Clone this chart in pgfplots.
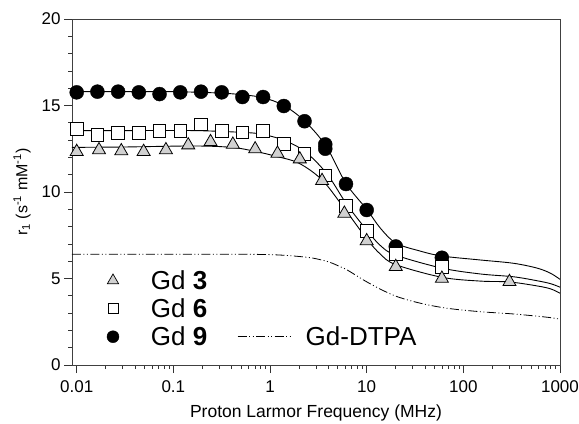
\documentclass[border=0pt]{standalone}
\usepackage{fontspec}
\setmainfont{Liberation Sans}
\usepackage{pgfplots}
\pgfplotsset{compat=1.18}
\tikzset{
  dtpa/.style={black, line width=0.8bp, dash pattern=on 9bp off 2.5bp on 1bp off 2.5bp on 1bp off 2.5bp},
}
\pgfplotsset{
  fitline/.style={black, line width=0.9bp, smooth, tension=0.55, no marks},
  markleg/.style={legend image code/.code={\path[draw=none, fill=none] (-6bp,0bp) -- (36bp,0bp); \draw[##1] plot coordinates {(0bp,0bp)};}},
  dtpaleg/.style={legend image code/.code={\path[draw=none, fill=none] (0bp,0bp) -- (66bp,0bp); \draw[dtpa] (0bp,0bp) -- (55bp,0bp);}},
}
\begin{document}
\begin{tikzpicture}
\begin{axis}[
  at={(72bp,59bp)}, anchor=south west,
  scale only axis, width=488bp, height=346bp,
  xmode=log, log basis x=10,
  xmin=0.00894, xmax=1000, ymin=0, ymax=20,
  xtick={0.01,0.1,1,10,100,1000},
  xticklabels={0.01,0.1,1,10,100,1000},
  minor xtick={0.02,0.03,0.04,0.05,0.06,0.07,0.08,0.09,0.2,0.3,0.4,0.5,0.6,0.7,0.8,0.9,2,3,4,5,6,7,8,9,20,30,40,50,60,70,80,90,200,300,400,500,600,700,800,900},
  ytick={0,5,10,15,20},
  minor ytick={1,2,3,4,6,7,8,9,11,12,13,14,16,17,18,19},
  tick align=outside, xtick pos=bottom, ytick pos=left,
  major tick length=8bp, minor tick length=4bp,
  tick style={black!80, line width=0.7bp},
  axis line style={black!75, line width=0.8bp},
  /pgf/number format/assume math mode=true,
  ticklabel style={font=\fontsize{17bp}{19bp}\selectfont},
  xticklabel style={yshift=-4bp},
  xlabel={Proton Larmor Frequency (MHz)},
  ylabel={r\textsubscript{1} (s\textsuperscript{-1} mM\textsuperscript{-1})},
  xlabel style={font=\fontsize{17.5bp}{20bp}\selectfont, at={(axis description cs:0.5,-0.139)}, anchor=center},
  ylabel style={font=\fontsize{16bp}{19bp}\selectfont, at={(axis description cs:-0.1025,0.5)}, anchor=center},
  legend columns=2,
  legend cell align=left,
  legend style={draw=none, fill=none, font=\fontsize{26bp}{30bp}\selectfont,
    at={(axis description cs:0.0713,0.280)}, anchor=north west,
    row sep=3.8bp, column sep=0bp, inner sep=0pt,
    /tikz/every even column/.append style={column sep=28bp}},
]
% fitted curves
\addplot[fitline, forget plot] coordinates {
(0.00894,15.8) (0.03,15.8) (0.1,15.8) (0.3,15.72) (0.52,15.62) (0.85,15.45) (1.39,15.0) (2.28,14.1) (3.8,12.65) (6.1,10.5) (10,9.0) (13.9,7.9) (20,7.05) (35,6.6) (60,6.3) (150,6.07) (330,5.88) (580,5.6) (800,5.3) (1000,4.95)};
\addplot[fitline, forget plot] coordinates {
(0.00894,13.55) (0.03,13.55) (0.16,13.55) (0.5,13.45) (0.8,13.35) (1.38,13.0) (2.31,12.33) (3.88,11.05) (6.2,9.3) (10,7.8) (13.9,6.9) (20,6.35) (60,5.6) (151,5.26) (330,5.1) (580,4.87) (800,4.7) (1000,4.5)};
\addplot[fitline, forget plot] coordinates {
(0.00894,12.58) (0.03,12.6) (0.16,12.66) (0.4,12.58) (0.7,12.35) (1.2,12.04) (2.0,11.66) (3.45,10.7) (5.7,9.15) (10,7.3) (13.9,6.4) (20,5.8) (60,5.07) (150,4.85) (300,4.8) (580,4.57) (800,4.4) (1000,4.15)};
\addplot[dtpa, smooth, tension=0.55, no marks, forget plot] coordinates {
(0.00894,6.4) (0.1,6.4) (0.5,6.4) (1,6.38) (1.5,6.33) (2.2,6.25) (2.83,6.17) (4,5.97) (5,5.75) (6.3,5.49) (9.3,4.91) (13.9,4.38) (20.7,3.95) (36,3.57) (68,3.28) (150,3.08) (330,2.95) (740,2.76) (1000,2.65)};
% Gd 9
\addplot[only marks, mark=*, mark size=7bp, mark options={fill=black, draw=black}, forget plot] coordinates {
(0.01,15.76) (0.01638,15.80) (0.02683,15.80) (0.04394,15.76) (0.07197,15.66) (0.1179,15.76) (0.1931,15.80) (0.3162,15.76) (0.518,15.49) (0.848,15.49) (1.389,14.97) (2.276,14.09) (3.728,12.75) (3.728,12.5) (6.105,10.46) (10,8.96) (20,6.85) (60,6.2)};
% Gd 6
\addplot[only marks, mark=square*, mark size=6.3bp, mark options={fill=white, draw=black, line width=0.8bp}, forget plot] coordinates {
(0.01,13.64) (0.01638,13.29) (0.02683,13.43) (0.04394,13.43) (0.07197,13.53) (0.1179,13.54) (0.1931,13.91) (0.3162,13.54) (0.518,13.45) (0.848,13.54) (1.389,12.77) (2.276,12.2) (3.728,10.95) (6.105,9.2) (10,7.75) (20,6.42) (60,5.68)};
% Gd 3
\addplot[only marks, mark=triangle*, mark size=7.5bp, mark options={fill=black!18, draw=black, line width=0.8bp}, forget plot] coordinates {
(0.01,12.33) (0.01701,12.43) (0.02894,12.37) (0.04924,12.33) (0.08377,12.43) (0.1425,12.71) (0.2424,12.9) (0.4125,12.75) (0.7017,12.48) (1.194,12.23) (2.031,11.9) (3.455,10.65) (5.878,8.76) (10,7.17) (20,5.68) (60,5.0) (300,4.81)};
% legend
\addlegendimage{only marks, mark=triangle*, mark size=6.5bp, mark options={fill=black!18, draw=black, line width=0.7bp}, markleg}
\addlegendentry{Gd \textbf{3}}
\addlegendimage{empty legend}
\addlegendentry{}
\addlegendimage{only marks, mark=square*, mark size=5bp, mark options={fill=white, draw=black, line width=0.7bp}, markleg}
\addlegendentry{Gd \textbf{6}}
\addlegendimage{empty legend}
\addlegendentry{}
\addlegendimage{only marks, mark=*, mark size=6bp, mark options={fill=black, draw=black}, markleg}
\addlegendentry{Gd \textbf{9}}
\addlegendimage{dtpaleg}
\addlegendentry{Gd-DTPA}
\end{axis}
\pgfresetboundingbox
\path (0,0) rectangle (579bp,424bp);
\end{tikzpicture}
\end{document}
